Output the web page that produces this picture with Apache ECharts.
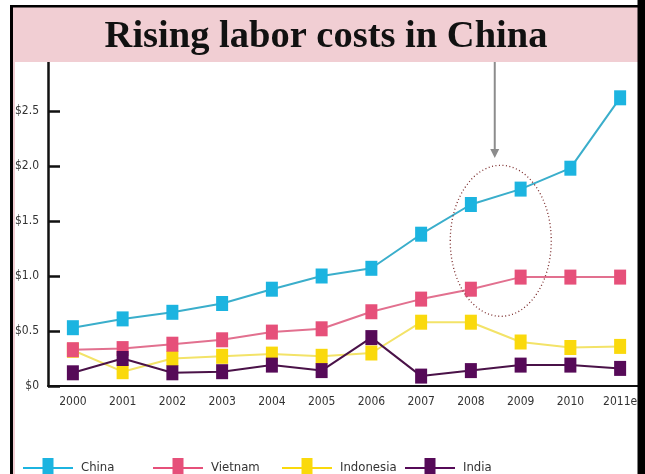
<!DOCTYPE html>
<html>
<head>
<meta charset="utf-8">
<script src="https://cdn.jsdelivr.net/npm/echarts@6/dist/echarts.min.js"></script>
<style>
  html, body { margin: 0; padding: 0; background: #ffffff; }
  #chart { width: 645px; height: 474px; }
</style>
</head>
<body>
<div id="chart"></div>
<script>
// Hourly manufacturing labour cost, US$, 2000-2011 (2011 estimated)
const years = ['2000', '2001', '2002', '2003', '2004', '2005', '2006', '2007', '2008', '2009', '2010', '2011e'];
const china     = [0.53, 0.61, 0.67, 0.75, 0.88, 1.00, 1.07, 1.38, 1.65, 1.79, 1.98, 2.62];
const vietnam   = [0.33, 0.34, 0.38, 0.42, 0.49, 0.52, 0.675, 0.79, 0.88, 0.99, 0.99, 0.99];
const indonesia = [0.325, 0.13, 0.25, 0.27, 0.29, 0.27, 0.30, 0.58, 0.58, 0.40, 0.35, 0.36];
const india     = [0.12, 0.25, 0.12, 0.13, 0.19, 0.14, 0.44, 0.09, 0.14, 0.19, 0.19, 0.16];
const yTickLabels = ['$0', '$0.5', '$1.0', '$1.5', '$2.0', '$2.5'];
const titleText = 'Rising labor costs in China';

const FONT = "'Liberation Sans Narrow', 'DejaVu Sans Condensed', 'Liberation Sans', sans-serif";
const legendIcon = 'path://M0,9L19.5,9L19.5,0L30.5,0L30.5,9L50,9L50,11L30.5,11L30.5,20L19.5,20L19.5,11L0,11Z';

const palette = {
  China:     { line: '#3aaecb', mark: '#1cb4e0' },
  Vietnam:   { line: '#e2708f', mark: '#e6507a' },
  Indonesia: { line: '#f3e368', mark: '#fad90c' },
  India:     { line: '#4a1248', mark: '#560a58' }
};

function lineSeries(name, data, z) {
  const c = palette[name];
  return {
    name: name,
    type: 'line',
    data: data,
    z: z,
    symbol: 'rect',
    symbolSize: [12, 15],
    showAllSymbol: true,
    lineStyle: { color: c.line, width: 2 },
    itemStyle: { color: c.mark },
    emphasis: { disabled: true },
    animation: false
  };
}

function legendAt(name, left) {
  return {
    left: left,
    top: 453,
    data: [{ name: name, icon: legendIcon, itemStyle: { color: palette[name].mark } }],
    itemWidth: 50,
    itemHeight: 20,
    selectedMode: false,
    textStyle: { fontFamily: FONT, fontSize: 13, color: '#333', padding: [0, 0, 0, 3] }
  };
}

const chart = echarts.init(document.getElementById('chart'), null, { renderer: 'canvas' });

chart.setOption({
  backgroundColor: '#ffffff',
  animation: false,
  grid: { left: 48, top: 56, width: 602.4, height: 330 },
  legend: [
    legendAt('China', 18),
    legendAt('Vietnam', 148),
    legendAt('Indonesia', 277),
    legendAt('India', 400)
  ],
  xAxis: {
    type: 'category',
    data: years,
    boundaryGap: true,
    axisLine: { lineStyle: { color: '#111', width: 2 } },
    axisTick: { inside: true, length: 8, lineStyle: { color: '#111', width: 2 } },
    axisLabel: { fontFamily: FONT, fontSize: 12, color: '#333', margin: 10 }
  },
  yAxis: {
    type: 'value',
    min: 0,
    max: 3,
    interval: 0.5,
    splitLine: { show: false },
    axisLine: { show: true, lineStyle: { color: '#111', width: 2.5 } },
    axisTick: { show: true, inside: true, length: 12, lineStyle: { color: '#111', width: 2.5 } },
    axisLabel: {
      fontFamily: FONT, fontSize: 12, color: '#333', margin: 9,
      formatter: function (v) {
        const i = Math.round(v / 0.5);
        return yTickLabels[i] !== undefined ? yTickLabels[i] : '';
      }
    }
  },
  series: [
    lineSeries('Indonesia', indonesia, 2),
    lineSeries('China', china, 3),
    lineSeries('Vietnam', vietnam, 4),
    lineSeries('India', india, 5)
  ]
});

// Annotation ellipse around the 2008-2009 stretch, placed through the axes
const x08 = chart.convertToPixel({ xAxisIndex: 0 }, '2008');
const x09 = chart.convertToPixel({ xAxisIndex: 0 }, '2009');
const yMid = chart.convertToPixel({ yAxisIndex: 0 }, 1.32);
const cx = (x08 + x09) / 2 + 5;

chart.setOption({
  graphic: [
    // pink title banner
    { type: 'rect', z: 100, shape: { x: 13, y: 7, width: 625, height: 55 }, style: { fill: '#f1ced3' } },
    { type: 'rect', z: 100, shape: { x: 13, y: 62, width: 2, height: 412 }, style: { fill: '#f1ced3' } },
    {
      type: 'text', z: 101, x: 326, y: 37,
      style: {
        text: titleText, fill: '#111',
        font: "bold 38.5px 'Liberation Serif', 'DejaVu Serif', serif",
        align: 'center', verticalAlign: 'middle'
      }
    },
    // black frame
    { type: 'rect', z: 102, shape: { x: 10, y: 5, width: 635, height: 2.5 }, style: { fill: '#000' } },
    { type: 'rect', z: 102, shape: { x: 10, y: 5, width: 3, height: 469 }, style: { fill: '#000' } },
    { type: 'rect', z: 102, shape: { x: 637.5, y: 0, width: 7.5, height: 474 }, style: { fill: '#000' } },
    // pointer arrow
    { type: 'line', z: 90, shape: { x1: cx - 6, y1: 62, x2: cx - 6, y2: 151 }, style: { stroke: '#8c8c8c', lineWidth: 2 } },
    { type: 'polygon', z: 90, shape: { points: [[cx - 10.5, 149], [cx - 1.5, 149], [cx - 6, 158]] }, style: { fill: '#8c8c8c' } },
    // dotted ellipse
    {
      type: 'ellipse', z: 90,
      shape: { cx: cx, cy: yMid, rx: 50.5, ry: 75.5 },
      style: { fill: 'none', stroke: '#7a2a2a', lineWidth: 1.3, lineDash: [1, 2.5] }
    }
  ]
});
</script>
</body>
</html>
